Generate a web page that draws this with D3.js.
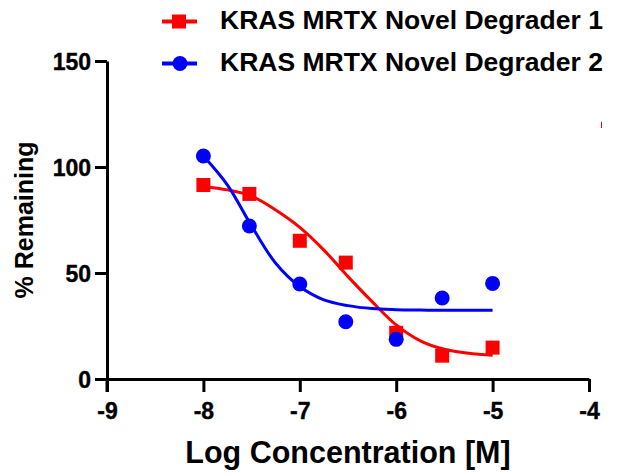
<!DOCTYPE html>
<html>
<head>
<meta charset="utf-8">
<script src="https://cdn.jsdelivr.net/npm/d3@7"></script>
<style>
  html, body { margin: 0; padding: 0; background: #fff; }
  svg { display: block; }
  text { font-family: "Liberation Sans", Arial, sans-serif; font-weight: 700; fill: #000; }
  .tick text { font: 700 23px "Liberation Sans", Arial, sans-serif; }
</style>
</head>
<body>
<svg id="chart" width="628" height="476"></svg>
<script>
// ---- data ----
const seriesNames = ["KRAS MRTX Novel Degrader 1", "KRAS MRTX Novel Degrader 2"];
const logConc = [-8, -7.523, -7, -6.523, -6, -5.523, -5];
const degrader1 = [91.5, 87.3, 65.2, 54.9, 21.8, 11, 14.8];
const degrader2 = [105.2, 72.2, 44.8, 27, 18.7, 38.2, 45.1];
// fitted curves
const curveX = [-8, -7.75, -7.5, -7.25, -7, -6.75, -6.5, -6.25, -6, -5.75, -5.5, -5.25, -5];
const curve1 = [90.7, 89.2, 86.3, 79.7, 71.5, 60.8, 48.3, 36.5, 25.5, 18, 14, 12.1, 11.2];
const curve2 = [105.2, 91.5, 72.2, 54.6, 43.6, 37.3, 34.6, 33.2, 32.7, 32.5, 32.4, 32.4, 32.4];
const xTicks = [-9, -8, -7, -6, -5, -4];
const yTicks = [0, 50, 100, 150];
const xTitle = "Log Concentration [M]";
const yTitle = "% Remaining";

const RED = "#ff0000", BLUE = "#0000ff";
const svg = d3.select("#chart");

const x = d3.scaleLinear().domain([-9, -4]).range([107, 589]);
const y = d3.scaleLinear().domain([0, 150]).range([379, 61]);

// axes
const xAxis = svg.append("g")
  .attr("transform", `translate(0,${y(0)})`)
  .call(d3.axisBottom(x).tickValues(xTicks).tickFormat(d => String(d))
    .tickSize(13).tickSizeOuter(0).tickPadding(11));
const yAxis = svg.append("g")
  .attr("transform", `translate(${x(-9)},0)`)
  .call(d3.axisLeft(y).tickValues(yTicks).tickFormat(d => String(d))
    .tickSize(12).tickSizeOuter(0).tickPadding(4));

[xAxis, yAxis].forEach(g => {
  g.attr("font-family", null).attr("font-size", null);
  g.selectAll("path.domain").attr("stroke", "#000").attr("stroke-width", 3);
  g.selectAll(".tick line").attr("stroke", "#000").attr("stroke-width", 3);
  g.selectAll(".tick text").attr("font-weight", "700").attr("fill", "#000")
    .attr("stroke", "#000").attr("stroke-width", 0.4);
});
yAxis.selectAll(".tick text").attr("dy", "0.36em");
// extend y axis line slightly below x axis (as in reference)
svg.append("line")
  .attr("x1", x(-9)).attr("x2", x(-9))
  .attr("y1", y(0)).attr("y2", y(0) + 13)
  .attr("stroke", "#000").attr("stroke-width", 3);

// titles
svg.append("text")
  .attr("x", (x(-9) + x(-4)) / 2).attr("y", 463)
  .attr("text-anchor", "middle").style("font-size", "30.5px")
  .text(xTitle);
svg.append("text")
  .attr("transform", `translate(33,${(y(0) + y(150)) / 2}) rotate(-90)`)
  .attr("text-anchor", "middle").style("font-size", "25px")
  .text(yTitle);

// curves
const line = d3.line().x(d => x(d[0])).y(d => y(d[1])).curve(d3.curveCatmullRom.alpha(0.5));

svg.append("path")
  .datum(curveX.map((v, i) => [v, curve1[i]]))
  .attr("d", line).attr("fill", "none").attr("stroke", RED).attr("stroke-width", 3);
svg.append("g").selectAll("rect")
  .data(logConc.map((v, i) => [v, degrader1[i]]))
  .join("rect")
  .attr("x", d => x(d[0]) - 7).attr("y", d => y(d[1]) - 7)
  .attr("width", 14).attr("height", 14).attr("fill", RED);

svg.append("path")
  .datum(curveX.map((v, i) => [v, curve2[i]]))
  .attr("d", line).attr("fill", "none").attr("stroke", BLUE).attr("stroke-width", 3);
svg.append("g").selectAll("circle")
  .data(logConc.map((v, i) => [v, degrader2[i]]))
  .join("circle")
  .attr("cx", d => x(d[0])).attr("cy", d => y(d[1]))
  .attr("r", 7.5).attr("fill", BLUE);

// legend
const legend = svg.append("g");
const rows = [
  { name: seriesNames[0], color: RED, shape: "square", cy: 21.5 },
  { name: seriesNames[1], color: BLUE, shape: "circle", cy: 63.5 }
];
rows.forEach(r => {
  legend.append("line").attr("x1", 162).attr("x2", 197)
    .attr("y1", r.cy).attr("y2", r.cy)
    .attr("stroke", r.color).attr("stroke-width", 4);
  if (r.shape === "square") {
    legend.append("rect").attr("x", 179 - 7).attr("y", r.cy - 7)
      .attr("width", 14).attr("height", 14).attr("fill", r.color);
  } else {
    legend.append("circle").attr("cx", 180).attr("cy", r.cy).attr("r", 7.5).attr("fill", r.color);
  }
  legend.append("text").attr("x", 220).attr("y", r.cy + 7)
    .style("font-size", "26.5px").text(r.name);
});

// small stray red mark in the reference
svg.append("line").attr("x1", 601.5).attr("x2", 601.5).attr("y1", 122).attr("y2", 128)
  .attr("stroke", "#e00000").attr("stroke-width", 1);
</script>
</body>
</html>
